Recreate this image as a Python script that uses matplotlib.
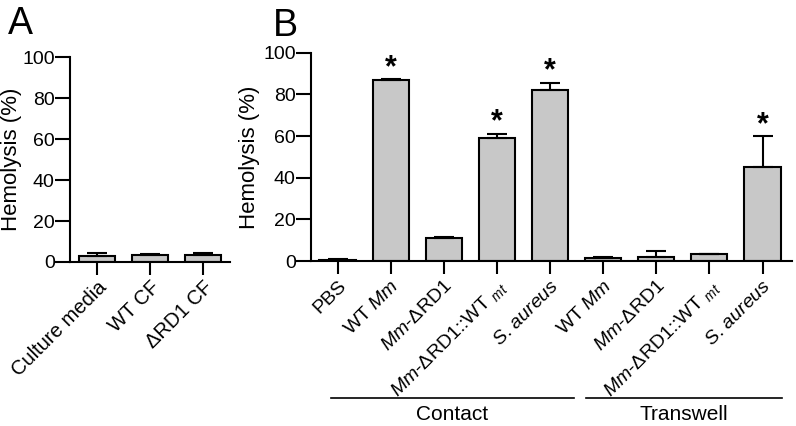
import matplotlib.pyplot as plt
import matplotlib.transforms as mtransforms

plt.rcParams["font.family"] = ["Liberation Sans", "DejaVu Sans"]
plt.rcParams["mathtext.fontset"] = "custom"
plt.rcParams["mathtext.rm"] = "Liberation Sans"
plt.rcParams["mathtext.it"] = "Liberation Sans:italic"

# panel A
labels_a = ["Culture media", "WT CF", "\u0394RD1 CF"]
values_a = [2.9, 3.4, 3.2]
errors_a = [1.3, 0.6, 1.0]

# panel B
labels_b = [
    "PBS",
    r"WT $\mathit{Mm}$",
    r"$\mathit{Mm}$-ΔRD1",
    r"$\mathit{Mm}$-ΔRD1::WT $_{\mathit{mt}}$",
    r"$\mathit{S}$. $\mathit{aureus}$",
    r"WT $\mathit{Mm}$",
    r"$\mathit{Mm}$-ΔRD1",
    r"$\mathit{Mm}$-ΔRD1::WT $_{\mathit{mt}}$",
    r"$\mathit{S}$. $\mathit{aureus}$",
]
values_b = [0.6, 86.8, 11.1, 59.1, 82.1, 1.3, 1.9, 3.5, 45.4]
errors_b = [0.3, 0.5, 0.5, 2.1, 3.5, 0.6, 2.9, 0.0, 14.6]
significant_b = [False, True, False, True, True, False, False, False, True]
groups = ["Contact", "Transwell"]
group_spans = [(-0.13, 4.45), (4.68, 8.36)]

BAR_COLOR = "#c8c8c8"
LW = 1.5

fig = plt.figure(figsize=(7.96, 4.26), dpi=100)
ax_a = fig.add_axes([0.0879, 0.385, 0.201, 0.481])
ax_b = fig.add_axes([0.3907, 0.387, 0.604, 0.489])


def draw_bars(ax, labels, values, errors, xlim, label_x, label_size):
    x = list(range(len(values)))
    ax.bar(x, values, width=0.68, color=BAR_COLOR, edgecolor="black",
           linewidth=LW, zorder=2)
    ax.errorbar(x, values, yerr=[[0] * len(values), errors], fmt="none",
                ecolor="black", elinewidth=LW, capsize=7, capthick=LW, zorder=3)
    ax.set_xlim(*xlim)
    ax.set_ylim(0, 100)
    ax.set_yticks([0, 20, 40, 60, 80, 100])
    ax.set_xticks(x)
    ax.set_xticklabels(labels, rotation=45, ha="right", va="top",
                       rotation_mode="anchor", fontsize=label_size)
    ax.set_ylabel("Hemolysis (%)", fontsize=16)
    ax.yaxis.set_label_coords(label_x, 0.5)
    for side in ["top", "right"]:
        ax.spines[side].set_visible(False)
    for side in ["left", "bottom"]:
        ax.spines[side].set_linewidth(LW)
    ax.tick_params(axis="y", direction="out", length=10.5, width=LW,
                   labelsize=14, pad=0.5)
    ax.tick_params(axis="x", direction="out", length=9.5, width=LW, pad=2)


draw_bars(ax_a, labels_a, values_a, errors_a, (-0.51, 2.5), -0.30, 14.5)
draw_bars(ax_b, labels_b, values_b, errors_b, (-0.5, 8.55), -0.106, 14)

for i, sig in enumerate(significant_b):
    if sig:
        ax_b.text(i, values_b[i] + errors_b[i] + 1.5, "*", ha="center",
                  va="baseline", fontsize=22, fontweight="bold")

trans = mtransforms.blended_transform_factory(ax_b.transData, ax_b.transAxes)
for name, (x0, x1) in zip(groups, group_spans):
    ax_b.plot([x0, x1], [-0.659, -0.659], color="black", lw=1.2,
              transform=trans, clip_on=False)
    ax_b.text((x0 + x1) / 2, -0.69, name, ha="center", va="top",
              fontsize=15, transform=trans)

fig.text(8 / 796, 1 - 6 / 426, "A", fontsize=27, va="top", ha="left")
fig.text(273 / 796, 1 - 8 / 426, "B", fontsize=27, va="top", ha="left")

fig.savefig("out.png", dpi=100)
